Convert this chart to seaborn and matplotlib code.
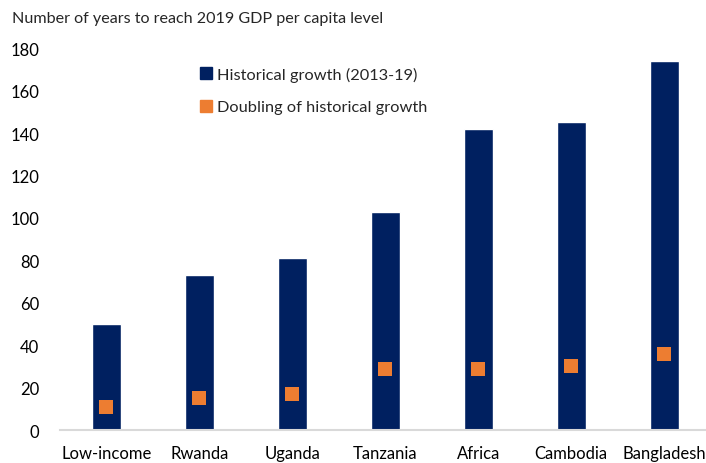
import pandas as pd
import seaborn as sns
import matplotlib.pyplot as plt
from matplotlib.lines import Line2D

countries = ["Low-income", "Rwanda", "Uganda", "Tanzania", "Africa", "Cambodia", "Bangladesh"]
historical = [50, 73, 81, 103, 142, 145, 174]
doubling = [11, 15, 17, 29, 29, 30, 36]

data = pd.DataFrame({"country": countries, "historical": historical, "doubling": doubling})

sns.set_theme(style="white")
plt.rcParams['font.family'] = ['Lato', 'DejaVu Sans']

navy = "#002060"
orange = "#ED7D31"

fig = plt.figure(figsize=(7.06, 4.64), dpi=100)
ax = fig.add_axes([0.085, 0.071, 0.915, 0.823])

sns.barplot(data=data, x="country", y="historical", color=navy, width=0.31,
            saturation=1, ax=ax)
sns.stripplot(data=data, x="country", y="doubling", color=orange, marker="s",
              size=10, jitter=False, linewidth=0, ax=ax, zorder=3)

ax.set_ylim(0, 180)
ax.set_yticks(range(0, 181, 20))
ax.set_xlim(-0.5, 6.45)
ax.set_xlabel("")
ax.set_ylabel("")
ax.tick_params(axis="both", length=0, labelsize=12, colors="#000000")
ax.tick_params(axis="x", pad=11)
ax.tick_params(axis="y", pad=15)
for s in ["top", "right", "left"]:
    ax.spines[s].set_visible(False)
ax.spines["bottom"].set_color("#D9D9D9")
ax.spines["bottom"].set_linewidth(1.5)

handles = [
    Line2D([], [], marker="s", linestyle="", color=navy, markersize=8),
    Line2D([], [], marker="s", linestyle="", color=orange, markersize=8),
]
ax.legend(handles, ["Historical growth (2013-19)", "Doubling of historical growth"],
          frameon=False, fontsize=11.8, loc="upper left", bbox_to_anchor=(0.19, 0.99),
          labelspacing=1.1, handletextpad=0.2, handlelength=1.0)

fig.text(0.017, 0.96, "Number of years to reach 2019 GDP per capita level",
         fontsize=11.6, va="center", ha="left")

fig.savefig("out.png", dpi=100)
